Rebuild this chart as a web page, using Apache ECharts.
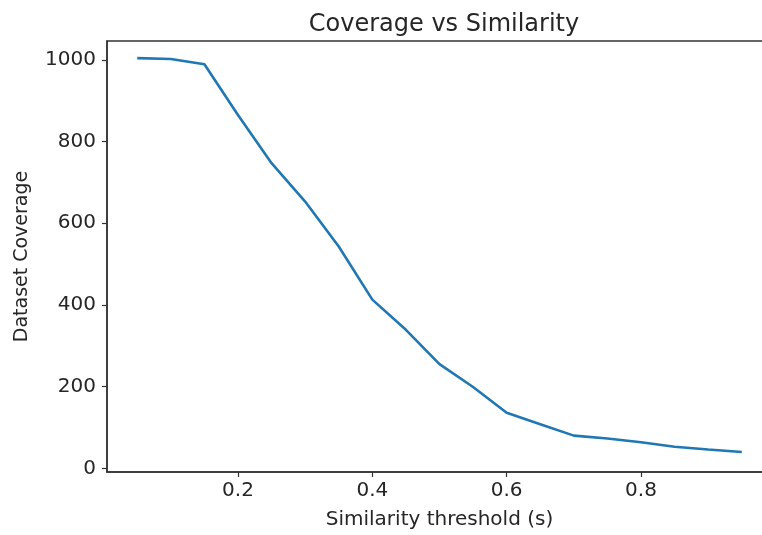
<!DOCTYPE html>
<html>
<head>
<meta charset="utf-8">
<script src="https://cdn.jsdelivr.net/npm/echarts@6/dist/echarts.min.js"></script>
<style>
  html, body { margin: 0; padding: 0; background: #fff; }
  #chart { width: 762px; height: 535px; }
</style>
</head>
<body>
<div id="chart"></div>
<script>
// Similarity threshold values and the resulting dataset coverage
const thresholds = [0.05, 0.10, 0.15, 0.20, 0.25, 0.30, 0.35, 0.40, 0.45, 0.50,
                    0.55, 0.60, 0.65, 0.70, 0.75, 0.80, 0.85, 0.90, 0.95];
const coverage = [1004, 1002, 989, 865, 747, 653, 543, 413, 339, 255,
                  199, 136, 108, 80, 73, 64, 53, 46, 40];
const xTicks = [0.2, 0.4, 0.6, 0.8];
const yTicks = [0, 200, 400, 600, 800, 1000];

const FONT = 'DejaVu Sans';
const INK = '#262626';

const chart = echarts.init(document.getElementById('chart'), null, { renderer: 'canvas' });

chart.setOption({
  animation: false,
  backgroundColor: '#ffffff',
  title: {
    text: 'Coverage vs Similarity',
    left: 439,
    top: 8,
    textAlign: 'center',
    textStyle: { fontFamily: FONT, fontSize: 24, fontWeight: 'normal', color: INK }
  },
  // the plot box runs a little past the right edge of the page
  grid: {
    left: 107, top: 41, width: 665, height: 431,
    outerBoundsMode: 'none',
    containLabel: false,
    show: true, borderColor: '#333', borderWidth: 1.5, backgroundColor: 'transparent'
  },
  xAxis: {
    type: 'value',
    min: 0.005,
    max: 0.995,
    name: 'Similarity threshold (s)',
    nameLocation: 'middle',
    nameGap: 38,
    nameTextStyle: { fontFamily: FONT, fontSize: 20, color: INK },
    splitLine: { show: false },
    axisLine: { show: true, onZero: false, lineStyle: { color: '#333', width: 1.5 } },
    axisTick: {
      show: true, inside: false, length: 5,
      customValues: xTicks,
      lineStyle: { color: '#333', width: 1.2 }
    },
    axisLabel: {
      customValues: xTicks,
      margin: 9,
      fontFamily: FONT, fontSize: 20, color: INK,
      formatter: v => v.toFixed(1)
    }
  },
  yAxis: {
    type: 'value',
    min: -9,
    max: 1046,
    name: 'Dataset Coverage',
    nameLocation: 'middle',
    nameGap: 75,
    nameTextStyle: { fontFamily: FONT, fontSize: 19, color: INK },
    splitLine: { show: false },
    axisLine: { show: true, onZero: false, lineStyle: { color: '#333', width: 1.5 } },
    axisTick: {
      show: true, inside: false, length: 5,
      customValues: yTicks,
      lineStyle: { color: '#333', width: 1.2 }
    },
    axisLabel: {
      customValues: yTicks,
      margin: 11,
      fontFamily: FONT, fontSize: 20, color: INK,
      formatter: v => String(v)
    }
  },
  series: [{
    type: 'line',
    data: thresholds.map((t, i) => [t, coverage[i]]),
    showSymbol: false,
    symbol: 'none',
    lineStyle: { color: '#1f77b4', width: 2.6 },
    clip: false
  }]
});
</script>
</body>
</html>
